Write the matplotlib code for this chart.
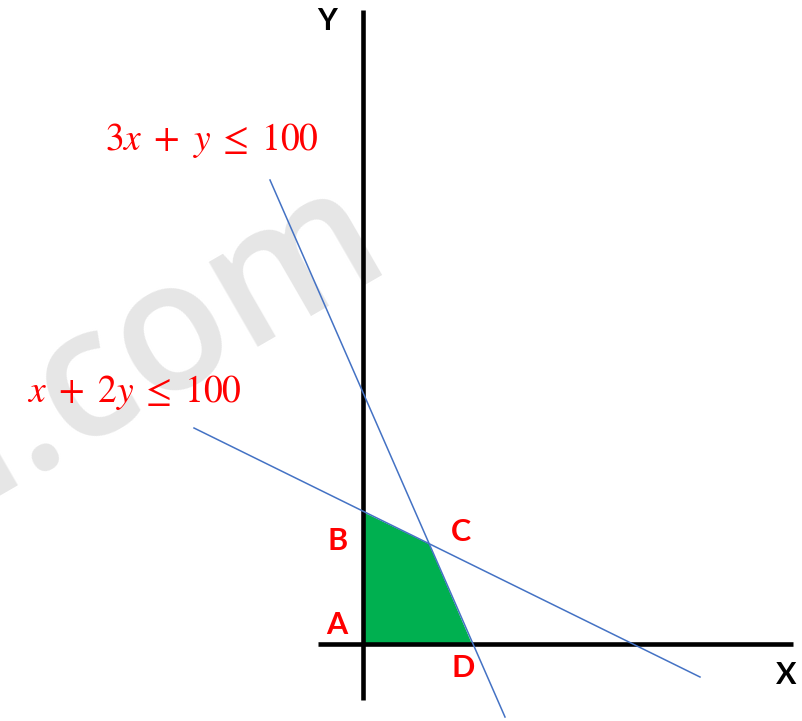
import matplotlib
matplotlib.use("Agg")
import matplotlib.pyplot as plt

plt.rcParams['mathtext.fontset'] = 'stix'

# Coordinates in drawing units (origin at the intersection of the axes)
x_axis_x = [-45, 430]
x_axis_y = [0, 0]
y_axis_x = [0, 0]
y_axis_y = [-56, 634]

line1_x = [-93, 142]      # 3x + y = 100
line1_y = [464, -73]
line2_x = [-169, 337]     # x + 2y = 100
line2_y = [216, -33]

region_x = [0, 0, 66, 109]   # A, B, C, D
region_y = [0, 132, 100, 0]

point_labels = ["A", "B", "C", "D"]
point_label_x = [-26, -25, 98, 100]
point_label_y = [19, 103, 112, -24]

eq_labels = [r'$3x\enspace{+}\enspace y\;{\leq}\;100$', r'$x\enspace{+}\enspace 2y\;{\leq}\;100$']
eq_label_x = [-258, -336]
eq_label_y = [504, 251]

fig = plt.figure(figsize=(8.02, 7.21), dpi=100)
ax = fig.add_axes([0, 0, 1, 1])
ax.set_xlim(-363, 439)
ax.set_ylim(-77, 644)
ax.axis('off')

# watermark
ax.text(30, 384, 'n.com', rotation=30, rotation_mode='anchor', ha='right', va='baseline',
        fontsize=130, color='#e6e6e6', family='Open Sans', fontweight='semibold', zorder=0)

ax.fill(region_x, region_y, color='#00b050', zorder=1, lw=0)
ax.plot(x_axis_x, x_axis_y, color='black', lw=3.3, solid_capstyle='butt', zorder=2)
ax.plot(y_axis_x, y_axis_y, color='black', lw=3.3, solid_capstyle='butt', zorder=2)
ax.plot(line1_x, line1_y, color='#4472c4', lw=1.1, zorder=3)
ax.plot(line2_x, line2_y, color='#4472c4', lw=1.1, zorder=3)

for t, x, y in zip(point_labels, point_label_x, point_label_y):
    ax.text(x, y, t, color='#ff0000', fontsize=22, fontweight='bold', family='Lato',
            ha='center', va='center', zorder=4)

for t, x, y in zip(eq_labels, eq_label_x, eq_label_y):
    ax.text(x, y, t, color='#ff0000', fontsize=27, ha='left', va='center', zorder=4)

ax.text(-36, 623, 'Y', color='black', fontsize=22, fontweight='bold', family='Lato',
        ha='center', va='center')
ax.text(423, -31, 'X', color='black', fontsize=22, fontweight='bold', family='Lato',
        ha='center', va='center')

fig.savefig('out.png', dpi=100)
